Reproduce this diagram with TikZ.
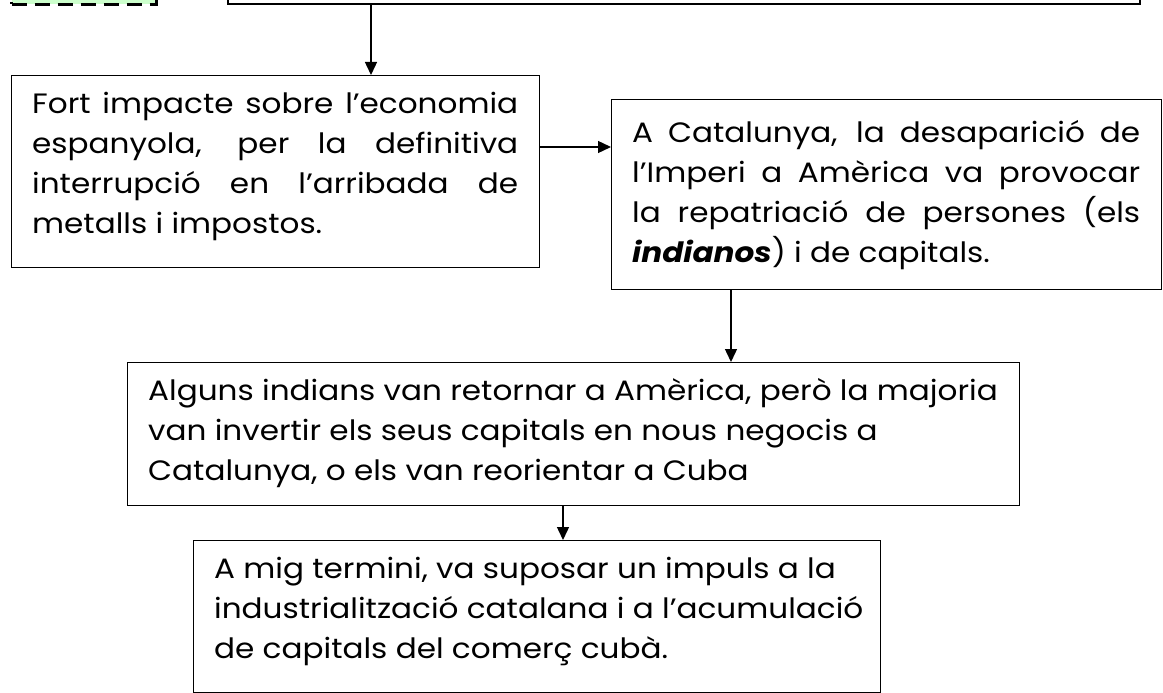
\documentclass[tikz,border=0pt]{standalone}
\usepackage{fontspec}
\setmainfont{Poppins}[FakeStretch=1.11]
\usetikzlibrary{arrows.meta}
\newcommand{\jl}[2]{\hbox to #1pt{\spaceskip=0pt plus 1fil\relax #2}}
\begin{document}
\begin{tikzpicture}[x=1pt,y=-1pt,
  box/.style={draw, line width=1.4pt, inner sep=0pt, anchor=north west},
  txt/.style={inner sep=0pt, anchor=north west, align=left, font=\fontsize{28}{40}\selectfont},
  conn/.style={line width=1.4pt, -{Triangle[length=13pt,width=12pt]}}]
\useasboundingbox (0,0) rectangle (1163,693);
% partial boxes at the top
\node[box, fill={rgb,255:red,204;green,255;blue,204}, dash pattern=on 15pt off 8pt, line width=3pt, minimum width=145pt, minimum height=40pt] (green) at (10,-37) {};
\node[box, line width=2.2pt, minimum width=912pt, minimum height=40pt] (top) at (227,-37) {};
% main boxes
\node[box, minimum width=528pt, minimum height=192pt] (b1) at (11,75) {};
\node[box, minimum width=550pt, minimum height=190pt] (b2) at (611,99) {};
\node[box, minimum width=892pt, minimum height=143pt] (b3) at (127,362) {};
\node[box, minimum width=687pt, minimum height=152pt] (b4) at (193,540) {};
% texts
\node[txt] (t1) at (32,85) {\strut\jl{486}{Fort impacte sobre l’economia}\\
\jl{486}{espanyola, per la definitiva}\\
\jl{486}{interrupció en l’arribada de}\\
metalls i impostos.};
\node[txt] (t2) at (632,114) {\strut\jl{508}{A Catalunya, la desaparició de}\\
\jl{508}{l’Imperi a Amèrica va provocar}\\
\jl{508}{la repatriació de persones (els}\\
\textbf{\textit{indianos}}) i de capitals.};
\node[txt] (t3) at (148,372) {\strut Alguns indians van retornar a Amèrica, però la majoria\\
van invertir els seus capitals en nous negocis a\\
Catalunya, o els van reorientar a Cuba};
\node[txt] (t4) at (214,550) {\strut A mig termini, va suposar un impuls a la\\
industrialització catalana i a l’acumulació\\
de capitals del comerç cubà.};
% connectors
\coordinate (x1) at (371,0);
\coordinate (y2) at (0,147);
\coordinate (x3) at (731,0);
\coordinate (x4) at (563,0);
\draw[conn] (top.south -| x1) -- (b1.north -| x1);
\draw[conn] (b1.east |- y2) -- (b2.west |- y2);
\draw[conn] (b2.south -| x3) -- (b3.north -| x3);
\draw[conn] (b3.south -| x4) -- (b4.north -| x4);
\end{tikzpicture}
\end{document}
